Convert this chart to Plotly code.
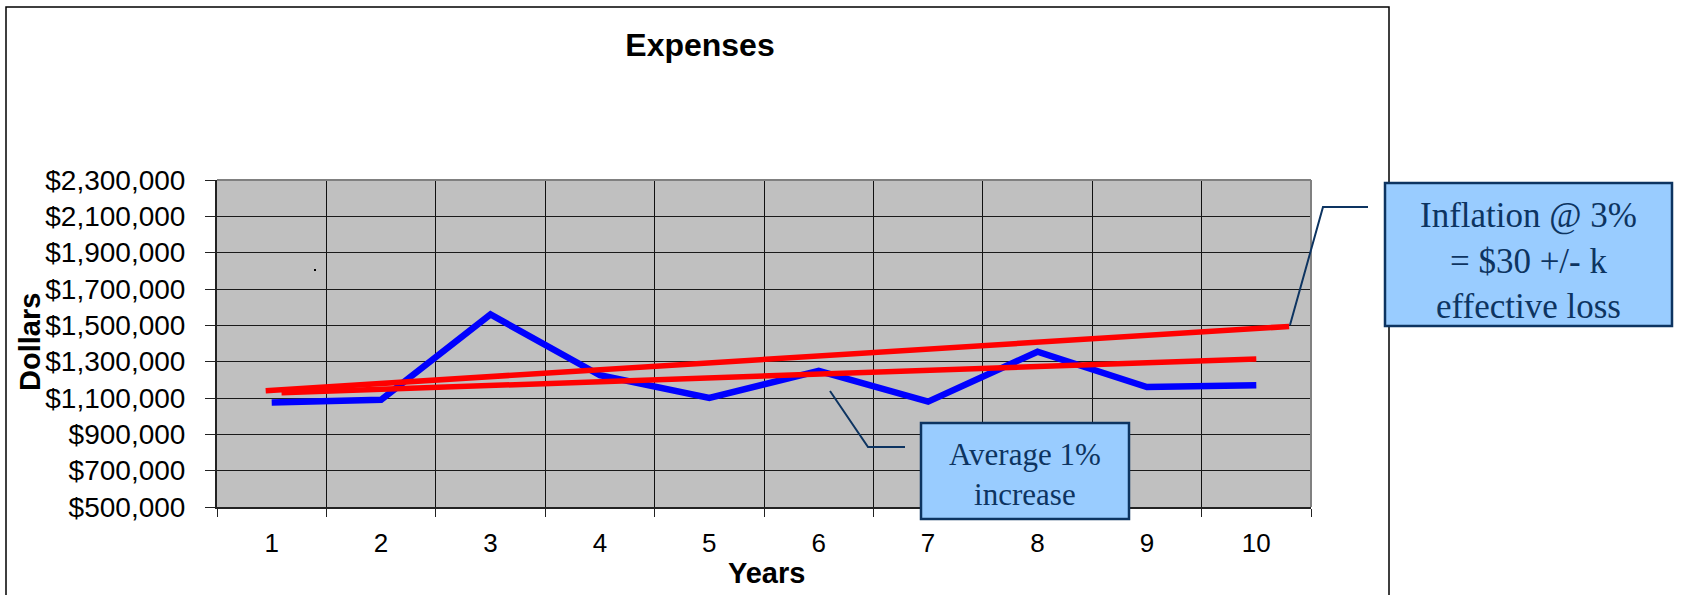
import plotly.graph_objects as go

# Yearly expenses
years = [1, 2, 3, 4, 5, 6, 7, 8, 9, 10]
expenses = [1075000, 1090000, 1560000, 1225000, 1100000, 1250000, 1080000, 1355000, 1160000, 1170000]

# Reference trend lines (start / end points)
inflation_x = [0.945, 10.3]
inflation_y = [1140000, 1494000]
average_x = [1.09, 10.0]
average_y = [1129000, 1315000]

y_ticks = [500000, 700000, 900000, 1100000, 1300000, 1500000, 1700000, 1900000, 2100000, 2300000]
y_tick_labels = [f"${v:,}" for v in y_ticks]
x_tick_labels = [str(y) for y in years]

W, H = 1682, 595
L, R, T, B = 217, 1311, 180, 507  # plot area in pixels


def px(x):
    return (x - L) / (R - L)


def py(y):
    return (B - y) / (B - T)


fig = go.Figure()

fig.add_trace(go.Scatter(x=years, y=expenses, mode="lines",
                         line=dict(color="#0000FF", width=6.5), hoverinfo="skip"))
fig.add_trace(go.Scatter(x=inflation_x, y=inflation_y, mode="lines",
                         line=dict(color="#FF0000", width=5.5), hoverinfo="skip"))
fig.add_trace(go.Scatter(x=average_x, y=average_y, mode="lines",
                         line=dict(color="#FF0000", width=5.5), hoverinfo="skip"))

sans = "Liberation Sans, Arial, sans-serif"
navy = "#0D3461"

fig.update_layout(
    width=W, height=H,
    margin=dict(l=L, r=W - R, t=T, b=H - B, pad=0),
    paper_bgcolor="white",
    plot_bgcolor="#C0C0C0",
    showlegend=False,
    title=dict(text="<b>Expenses</b>", x=700 / W, xref="container", xanchor="center",
               y=1 - 45 / H, yref="container", yanchor="middle",
               font=dict(family=sans, size=32, color="black")),
    xaxis=dict(
        range=[0.5, 10.5], tickvals=years, ticktext=x_tick_labels, ticks="",
        showgrid=False, zeroline=False,
        tickfont=dict(family=sans, size=26, color="black"), ticklabelstandoff=12,
        showline=True, linecolor="#222222", linewidth=2,
        minor=dict(tickvals=[y - 0.5 for y in years] + [10.5], showgrid=True,
                   gridcolor="#111111", gridwidth=1, ticks="outside", ticklen=8,
                   tickcolor="#222222", tickwidth=1),
    ),
    yaxis=dict(
        range=[500000, 2300000], tickvals=y_ticks, ticktext=y_tick_labels,
        ticks="outside", ticklen=10, tickcolor="#222222", tickwidth=1,
        showgrid=True, gridcolor="#1a1a1a", gridwidth=1, zeroline=False,
        tickfont=dict(family=sans, size=28, color="black"), ticklabelstandoff=14,
        showline=True, linecolor="#222222", linewidth=2,
    ),
)

shapes = []
# gray top and right edges of the plot area
shapes.append(dict(type="line", xref="paper", yref="paper", x0=0, x1=1, y0=1, y1=1,
                   line=dict(color="#808080", width=2)))
shapes.append(dict(type="line", xref="paper", yref="paper", x0=1, x1=1, y0=0, y1=1,
                   line=dict(color="#808080", width=2)))
# chart frame
shapes.append(dict(type="rect", xref="paper", yref="paper",
                   x0=px(6), x1=px(1389), y0=py(620), y1=py(7),
                   line=dict(color="black", width=1.5), fillcolor="rgba(0,0,0,0)"))
# callout connectors
shapes.append(dict(type="path", xref="paper", yref="paper",
                   path=f"M {px(1368)},{py(207)} L {px(1323)},{py(207)} L {px(1290)},{py(325)}",
                   line=dict(color=navy, width=2)))
shapes.append(dict(type="path", xref="paper", yref="paper",
                   path=f"M {px(830)},{py(391)} L {px(868)},{py(447)} L {px(905)},{py(447)}",
                   line=dict(color=navy, width=2)))
# callout boxes
shapes.append(dict(type="rect", xref="paper", yref="paper",
                   x0=px(1385), x1=px(1672), y0=py(326), y1=py(183),
                   line=dict(color=navy, width=2.5), fillcolor="#99CCFF"))
shapes.append(dict(type="rect", xref="paper", yref="paper",
                   x0=px(921), x1=px(1129), y0=py(519), y1=py(423),
                   line=dict(color=navy, width=2.5), fillcolor="#99CCFF"))
# small speck in the plot area
shapes.append(dict(type="rect", xref="paper", yref="paper",
                   x0=px(314), x1=px(316), y0=py(271), y1=py(269),
                   line=dict(width=0), fillcolor="black"))
fig.update_layout(shapes=shapes)

serif = "Liberation Serif, Times New Roman, serif"
fig.add_annotation(xref="paper", yref="paper", x=px(1528.5), y=py(261),
                   xanchor="center", yanchor="middle", showarrow=False,
                   text="Inflation @ 3%<br>= $30 +/- k<br>effective loss",
                   font=dict(family=serif, size=35, color=navy), align="center")
fig.add_annotation(xref="paper", yref="paper", x=px(1025), y=py(474),
                   xanchor="center", yanchor="middle", showarrow=False,
                   text="Average 1%<br>increase",
                   font=dict(family=serif, size=31, color=navy), align="center")

# axis titles
axis_title_font = dict(family=sans, size=29, color="black")
fig.add_annotation(xref="paper", yref="paper", x=px(766), y=py(573),
                   xanchor="center", yanchor="middle", showarrow=False,
                   text="<b>Years</b>", font=axis_title_font)
fig.add_annotation(xref="paper", yref="paper", x=px(30), y=py(342),
                   xanchor="center", yanchor="middle", showarrow=False,
                   text="<b>Dollars</b>", textangle=-90, font=axis_title_font)

fig.write_html("out.html")
